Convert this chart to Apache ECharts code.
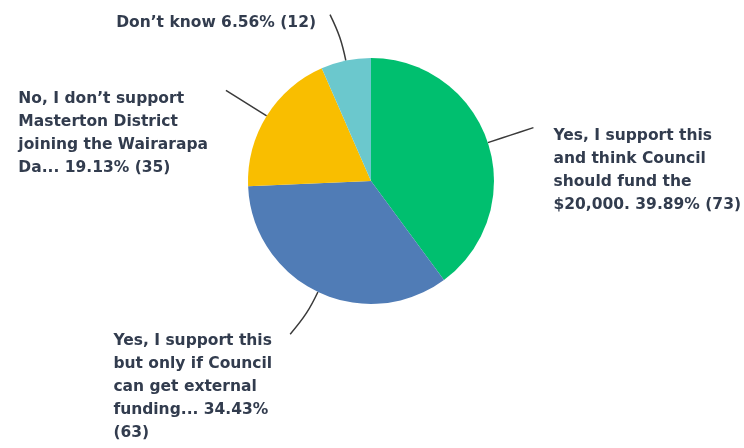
<!DOCTYPE html>
<html>
<head>
<meta charset="utf-8">
<script src="https://cdn.jsdelivr.net/npm/echarts@6/dist/echarts.min.js"></script>
<style>
  html, body { margin: 0; padding: 0; background: #ffffff; }
  #chart { width: 744px; height: 448px; }
</style>
</head>
<body>
<div id="chart"></div>
<script>
// Survey answers, clockwise from 12 o'clock
const categories = [
  'Yes, I support this\nand think Council\nshould fund the\n$20,000.',
  'Yes, I support this\nbut only if Council\ncan get external\nfunding...',
  'No, I don\u2019t support\nMasterton District\njoining the Wairarapa\nDa...',
  'Don\u2019t know'
];
const counts = [73, 63, 35, 12];
const colors = ['#00BF6F', '#507CB6', '#F9BE00', '#6BC8CD'];
// whether the "(n)" count wraps onto its own line
const countOnNewLine = [false, true, false, false];

// where each label block sits relative to the end of its radial leader,
// and how far the leader's tip bends away from the straight radial line
const labelPlacement = [
  { side: 'right', dx: 20, dy: -3, bend: [0, 0] },
  { side: 'left', dx: -25, dy: -6, bend: [-7, -1] },
  { side: 'left', dx: -18, dy: -3, bend: [0, 0] },
  { side: 'left', dx: -20, dy: -2, bend: [-6, 1] }
];

const total = counts.reduce(function (a, b) { return a + b; }, 0);

const chart = echarts.init(document.getElementById('chart'), null, { renderer: 'canvas' });

chart.setOption({
  backgroundColor: '#ffffff',
  animation: false,
  color: colors,
  series: [{
    type: 'pie',
    center: [371, 181],
    radius: 123,
    startAngle: 90,
    clockwise: true,
    avoidLabelOverlap: false,
    itemStyle: { borderWidth: 0 },
    label: {
      show: true,
      position: 'outside',
      alignTo: 'none',
      color: '#323c4e',
      fontFamily: 'DejaVu Sans',
      fontWeight: 'bold',
      fontSize: 15.5,
      lineHeight: 23,
      formatter: function (p) {
        // plain rounding of each share, as the survey tool reports it
        const pct = (p.value / total * 100).toFixed(2);
        return p.name + ' ' + pct + '%' +
          (countOnNewLine[p.dataIndex] ? '\n' : ' ') + '(' + p.value + ')';
      }
    },
    labelLine: {
      show: true,
      length: 48,
      length2: 0,
      smooth: 0.4,
      lineStyle: { color: '#3a3a3a', width: 1.5 }
    },
    labelLayout: function (params) {
      const pts = params.labelLinePoints;
      if (!pts) return {};
      const start = pts[0];
      const end = pts[pts.length - 1];
      const place = labelPlacement[params.dataIndex];
      const w = params.labelRect.width;
      const x = place.side === 'right' ? end[0] + place.dx : end[0] + place.dx - w;
      // radial midpoint, then the tip eased slightly sideways
      const mid = [start[0] + (end[0] - start[0]) * 0.5, start[1] + (end[1] - start[1]) * 0.5];
      const tip = [end[0] + place.bend[0], end[1] + place.bend[1]];
      return {
        x: x,
        y: end[1] + place.dy,
        align: 'left',
        verticalAlign: 'top',
        labelLinePoints: [start, mid, tip]
      };
    },
    emphasis: { disabled: true },
    data: categories.map(function (name, i) {
      return { name: name, value: counts[i] };
    })
  }]
});
</script>
</body>
</html>
